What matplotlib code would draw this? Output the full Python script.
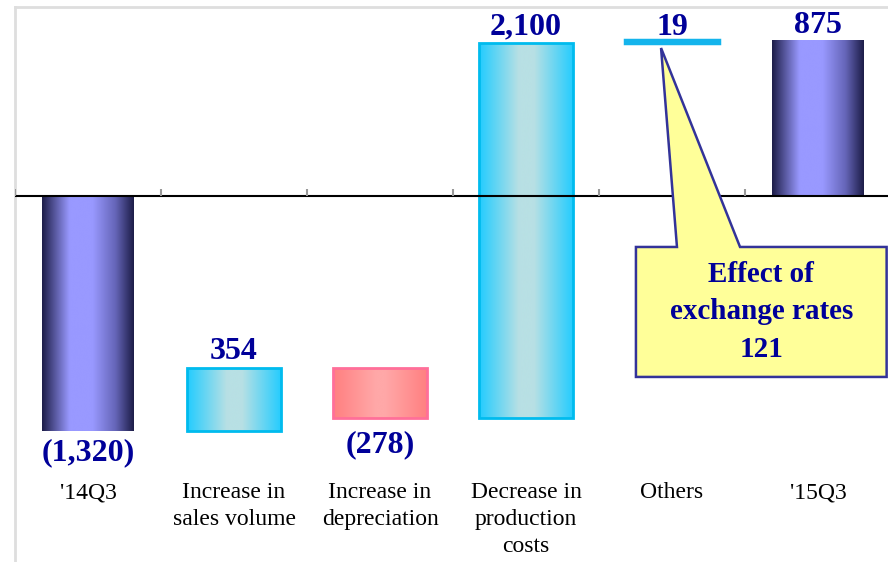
import matplotlib
matplotlib.use("Agg")
import matplotlib.pyplot as plt
import numpy as np
from matplotlib.colors import LinearSegmentedColormap
from matplotlib.patches import Polygon

# ---- data -------------------------------------------------------------
categories = ["'14Q3", "Increase in\nsales volume", "Increase in\ndepreciation",
              "Decrease in\nproduction\ncosts", "Others", "'15Q3"]
changes = [-1320, 354, -278, 2100, 19, 875]
kinds = ["total", "up", "down", "up", "up", "total"]
fx_effect = 121
fx_label = "Effect of\nexchange rates\n{}".format(fx_effect)

# ---- styles -----------------------------------------------------------
serif = "Liberation Serif"
label_color = "#000099"
grad_maps = {
    "total": LinearSegmentedColormap.from_list(
        "navy", [(0, "#1d1d48"), (0.3, "#9999ff"), (0.55, "#9999ff"),
                 (0.8, "#6565b8"), (1, "#1d1d48")]),
    "up": LinearSegmentedColormap.from_list(
        "cyan", [(0, "#22ccff"), (0.42, "#b8e0e4"), (0.58, "#b8e0e4"), (1, "#22ccff")]),
    "down": LinearSegmentedColormap.from_list(
        "pink", [(0, "#ff7f80"), (0.45, "#ffa8a8"), (0.55, "#ffa8a8"), (1, "#ff7f80")]),
}
edge_colors = {"total": "none", "up": "#00bbee", "down": "#ff6f99"}
widths = {"total": 0.63, "up": 0.65, "down": 0.65}
# pixel offsets of the value labels from the bar ends
label_offsets = [-7, 2, -12, 2, -2, 0]

fig = plt.figure(figsize=(8.88, 5.62), dpi=100)
ax = fig.add_axes([15 / 888, 0, 876 / 888, 555 / 562])
ax.set_xlim(-0.5, 5.5)
ax.set_ylim(-2053, 1060)

# waterfall geometry from the running total
bottoms, heights = [], []
running = 0
for val, kind in zip(changes, kinds):
    if kind == "total":
        bottoms.append(0)
        heights.append(val)
        running = val
    else:
        bottoms.append(running)
        heights.append(val)
        running += val

x = np.arange(len(categories))
grad = np.linspace(0, 1, 256).reshape(1, -1)
for i, (b, h, kind) in enumerate(zip(bottoms, heights, kinds)):
    w = widths[kind]
    bar = ax.bar(x[i], h, bottom=b, width=w, facecolor="none",
                 edgecolor=edge_colors[kind], linewidth=2, zorder=3)[0]
    y0, y1 = sorted([b, b + h])
    im = ax.imshow(grad, extent=[x[i] - w / 2, x[i] + w / 2, y0, y1],
                   aspect="auto", cmap=grad_maps[kind], interpolation="bicubic",
                   zorder=2)
    if abs(h) < 50:
        # very short bar: draw as solid strip
        im.remove()
        bar.set_facecolor("#14b4ec")
        bar.set_edgecolor("#14b4ec")
        bar.set_linewidth(2.5)
    else:
        im.set_clip_path(bar)

    # value label
    txt = "{:,}".format(abs(h))
    if h < 0:
        txt = "(" + txt + ")"
        va = "top"
    else:
        va = "bottom"
    ax.annotate(txt, (x[i], b + h), xytext=(0, label_offsets[i]),
                textcoords="offset pixels", ha="center", va=va, fontsize=23,
                fontweight="bold", family=serif, color=label_color, zorder=5)

ax.set_xlim(-0.5, 5.5)
ax.set_ylim(-2053, 1060)

# zero line and category separators
ax.axhline(0, color="black", lw=1.5, zorder=4)
ax.vlines(np.arange(-0.5, 6.0, 1.0), 0, 40, color="#999999", lw=1.5, zorder=4)

# category labels
for i, cat in enumerate(categories):
    ax.text(x[i], -1606, cat, ha="center", va="top", fontsize=17,
            family=serif, color="black", linespacing=1.38)

# callout for exchange-rate effect
bl, br, bt, bb = 3.753, 5.47, -286, -1015
p1, p2 = 4.034, 4.466
tip = (3.925, 830)
callout = Polygon([(bl, bt), (p1, bt), tip, (p2, bt), (br, bt), (br, bb), (bl, bb)],
                  closed=True, facecolor="#ffff99", edgecolor="#333399",
                  linewidth=1.8, zorder=6)
ax.add_patch(callout)
ax.text((bl + br) / 2, (bt + bb) / 2, fx_label, ha="center", va="center",
        fontsize=21, fontweight="bold", family=serif, color=label_color,
        linespacing=1.48, zorder=7)

# frame
ax.set_xticks([])
ax.set_yticks([])
for side in ("right", "bottom"):
    ax.spines[side].set_visible(False)
for side in ("left", "top"):
    ax.spines[side].set_color("#dedede")
    ax.spines[side].set_linewidth(2)

fig.savefig("out.png", dpi=100)
